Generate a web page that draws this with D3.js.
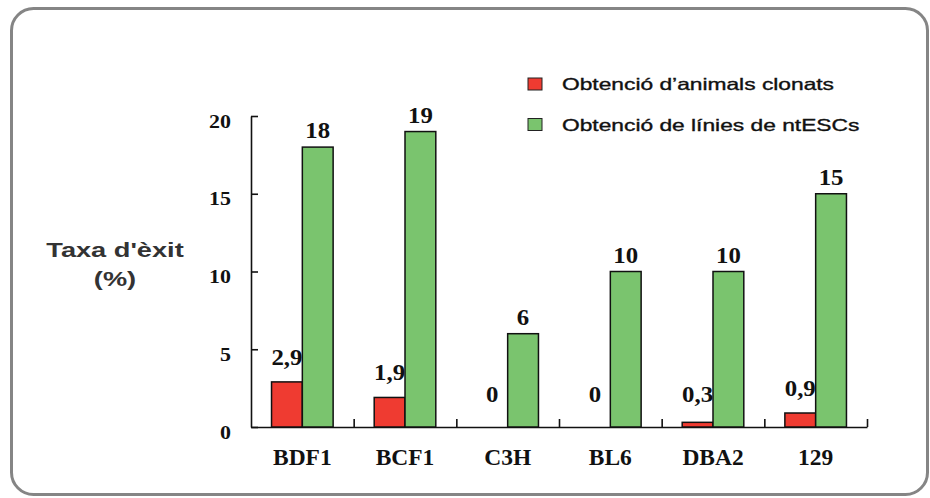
<!DOCTYPE html>
<html>
<head>
<meta charset="utf-8">
<script src="https://cdn.jsdelivr.net/npm/d3@7"></script>
<style>
  html, body { margin: 0; padding: 0; background: #fff; }
  svg { display: block; }
</style>
</head>
<body>
<script>
// Success rate per mouse strain (%)
const categories = ["BDF1", "BCF1", "C3H", "BL6", "DBA2", "129"];
const clonedAnimals = [2.9, 1.9, 0, 0, 0.3, 0.9];
const ntESCLines = [18, 19, 6, 10, 10, 15];
const yTicks = [0, 5, 10, 15, 20];
const seriesNames = ["Obtenció d’animals clonats", "Obtenció de línies de ntESCs"];
const yTitle = ["Taxa d'èxit", "(%)"];

const W = 930, H = 498;
const RED = "#ef3b31", GREEN = "#7ac46e";
const SERIF = "'Liberation Serif', 'Times New Roman', serif";
const SANS = "'Liberation Sans', Arial, sans-serif";

const svg = d3.select("body").append("svg")
  .attr("width", W).attr("height", H);

// rounded frame
svg.append("rect")
  .attr("x", 11.5).attr("y", 8.5)
  .attr("width", 916).attr("height", 486)
  .attr("rx", 22).attr("ry", 22)
  .attr("fill", "#fff")
  .attr("stroke", "#858585").attr("stroke-width", 3);

const plot = { left: 251, right: 867, top: 116, bottom: 427 };

const x = d3.scaleBand().domain(categories).range([plot.left, plot.right]).padding(0);
const xEdges = d3.scaleLinear().domain([0, categories.length]).range([plot.left, plot.right]);
const y = d3.scaleLinear().domain([0, 20]).range([plot.bottom, plot.top]);

const barW = x.bandwidth() * 0.3;
const fmt = v => String(v).replace(".", ",");

// stretched text helper: positions a text at (tx, ty) with horizontal scale sx
function place(sel, tx, ty, sx) {
  sel.attr("x", 0).attr("y", 0).attr("dy", null)
     .attr("transform", `translate(${tx},${ty}) scale(${sx},1)`);
}

// y axis
const yAxis = svg.append("g")
  .attr("transform", `translate(${plot.left},0)`)
  .call(d3.axisLeft(y).tickValues(yTicks).tickSize(-7).tickSizeOuter(0));
yAxis.selectAll("path, line").attr("stroke", "#111").attr("stroke-width", 1.6);
yAxis.selectAll("text")
  .attr("font-family", SERIF).attr("font-weight", "bold").attr("font-size", 18)
  .attr("fill", "#111").attr("text-anchor", "end")
  .each(function () { place(d3.select(this), -20, 11, 1.22); });

// x axis: boundary ticks
const xAxis = svg.append("g")
  .attr("transform", `translate(0,${plot.bottom})`)
  .call(d3.axisBottom(xEdges).tickValues(d3.range(1, categories.length + 1))
        .tickSize(-8).tickSizeOuter(0).tickFormat(""));
xAxis.selectAll("path, line").attr("stroke", "#111").attr("stroke-width", 1.6);

// x axis: category labels
const xLab = svg.append("g")
  .attr("transform", `translate(0,${plot.bottom})`)
  .call(d3.axisBottom(x).tickSize(0));
xLab.select(".domain").remove();
xLab.selectAll("text")
  .attr("font-family", SERIF).attr("font-weight", "bold").attr("font-size", 23)
  .attr("fill", "#111").attr("text-anchor", "middle")
  .each(function () { place(d3.select(this), 0, 38, 1.02); });

// bars
const rows = categories.map((c, i) => ({ c, red: clonedAnimals[i], green: ntESCLines[i] }));
const groups = svg.append("g").selectAll("g").data(rows).join("g");

groups.append("rect")
  .attr("x", d => x(d.c) + x.bandwidth() / 2 - barW)
  .attr("y", d => y(d.red))
  .attr("width", barW)
  .attr("height", d => y(0) - y(d.red))
  .attr("fill", RED)
  .attr("stroke", "#111").attr("stroke-width", d => d.red > 0 ? 1.5 : 0);

groups.append("rect")
  .attr("x", d => x(d.c) + x.bandwidth() / 2)
  .attr("y", d => y(d.green))
  .attr("width", barW)
  .attr("height", d => y(0) - y(d.green))
  .attr("fill", GREEN)
  .attr("stroke", "#111").attr("stroke-width", 1.5);

// value labels
groups.append("text")
  .attr("font-family", SERIF).attr("font-weight", "bold").attr("font-size", 23)
  .attr("fill", "#111").attr("text-anchor", "middle")
  .text(d => fmt(d.red))
  .each(function (d) {
    const cx = x(d.c) + x.bandwidth() / 2 - barW / 2;
    place(d3.select(this), cx, Math.min(y(d.red) - 17, y(0) - 25), 1.08);
  });

groups.append("text")
  .attr("font-family", SERIF).attr("font-weight", "bold").attr("font-size", 23)
  .attr("fill", "#111").attr("text-anchor", "middle")
  .text(d => fmt(d.green))
  .each(function (d) {
    const cx = x(d.c) + x.bandwidth() / 2 + barW / 2;
    place(d3.select(this), cx, y(d.green) - 9, 1.08);
  });

// y title
const yt = svg.append("g");
yt.selectAll("text").data(yTitle).join("text")
  .attr("font-family", SANS).attr("font-weight", "bold").attr("font-size", 20)
  .attr("fill", "#333").attr("text-anchor", "middle")
  .text(d => d)
  .each(function (d, i) { place(d3.select(this), 115, 257 + i * 29, 1.36); });

// legend
const legend = svg.append("g").attr("transform", "translate(528,0)");
const legendRows = [
  { name: seriesNames[0], color: RED, cy: 84 },
  { name: seriesNames[1], color: GREEN, cy: 124.5 }
];
legend.selectAll("rect").data(legendRows).join("rect")
  .attr("x", 0).attr("y", d => d.cy - 6)
  .attr("width", 14).attr("height", 12)
  .attr("fill", d => d.color)
  .attr("stroke", "#222").attr("stroke-width", 1);
legend.selectAll("text").data(legendRows).join("text")
  .attr("font-family", SANS).attr("font-size", 16.5)
  .attr("fill", "#111")
  .attr("stroke", "#111").attr("stroke-width", 0.35)
  .text(d => d.name)
  .each(function (d) { place(d3.select(this), 34, d.cy + 6, 1.38); });
</script>
</body>
</html>
